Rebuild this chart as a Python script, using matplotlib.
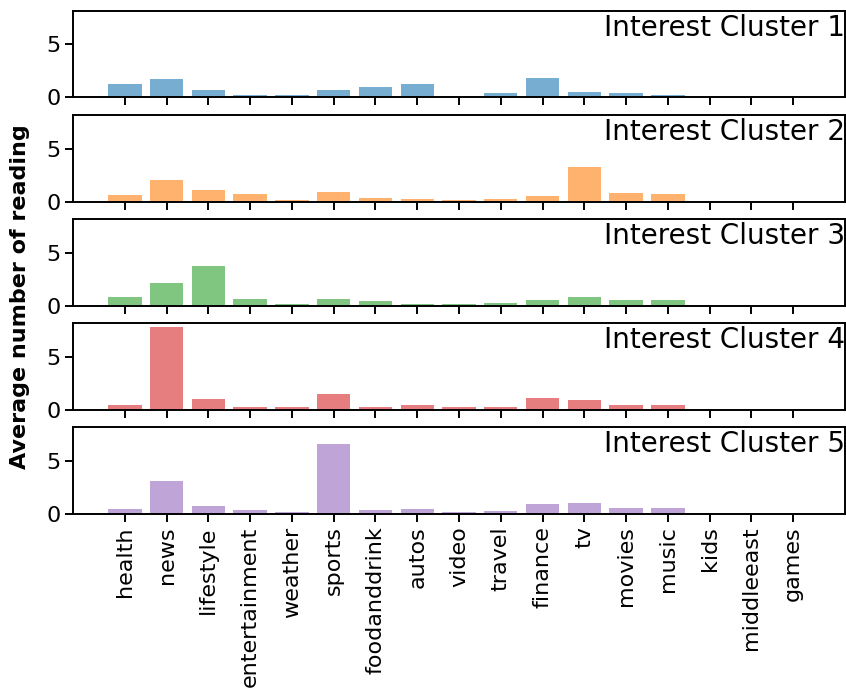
import matplotlib
matplotlib.use("Agg")
import matplotlib.pyplot as plt
import numpy as np

categories = ["health", "news", "lifestyle", "entertainment", "weather", "sports",
              "foodanddrink", "autos", "video", "travel", "finance", "tv",
              "movies", "music", "kids", "middleeast", "games"]

cluster1 = [1.21, 1.69, 0.64, 0.25, 0.18, 0.64, 0.92, 1.21, 0.08, 0.35, 1.78, 0.45, 0.35, 0.25, 0, 0, 0]
cluster2 = [0.58, 2.02, 1.06, 0.67, 0.10, 0.87, 0.29, 0.19, 0.10, 0.19, 0.48, 3.27, 0.77, 0.67, 0, 0, 0]
cluster3 = [0.82, 2.15, 3.77, 0.63, 0.16, 0.63, 0.44, 0.16, 0.16, 0.25, 0.54, 0.82, 0.54, 0.54, 0, 0, 0]
cluster4 = [0.47, 7.78, 0.95, 0.28, 0.19, 1.42, 0.28, 0.38, 0.19, 0.28, 1.04, 0.85, 0.38, 0.38, 0, 0, 0]
cluster5 = [0.41, 3.09, 0.70, 0.32, 0.13, 6.62, 0.32, 0.41, 0.13, 0.22, 0.89, 0.99, 0.51, 0.51, 0, 0, 0]

clusters = [cluster1, cluster2, cluster3, cluster4, cluster5]
cluster_names = ["Interest Cluster 1", "Interest Cluster 2", "Interest Cluster 3",
                 "Interest Cluster 4", "Interest Cluster 5"]
colors = ["tab:blue", "tab:orange", "tab:green", "tab:red", "tab:purple"]

W, H = 846, 697
fig = plt.figure(figsize=(W / 100, H / 100), dpi=100)

left_px, right_px = 73, 845
tops_px = [10.7, 115.0, 219.3, 323.0, 427.3]
height_px = 86.5

x = np.arange(len(categories))
axes = []
for i, (vals, name, col) in enumerate(zip(clusters, cluster_names, colors)):
    top = tops_px[i]
    ax = fig.add_axes([left_px / W, 1 - (top + height_px) / H,
                       (right_px - left_px) / W, height_px / H],
                      sharex=axes[0] if axes else None,
                      sharey=axes[0] if axes else None)
    ax.bar(x, vals, width=0.8, color=col, alpha=0.6)
    for s in ax.spines.values():
        s.set_linewidth(1.4)
    ax.tick_params(axis="both", length=5.5, width=1.4, labelsize=16)
    ax.text(1.0, 1 - 25 / height_px, name,
            transform=ax.transAxes, ha="right", va="baseline", fontsize=20)
    axes.append(ax)

for ax in axes[:-1]:
    ax.tick_params(axis="x", labelbottom=False)

axes[-1].set_xticks(x)
axes[-1].set_xticklabels(categories, rotation=90)
axes[0].set_yticks([0, 5])

fig.text(20 / W, 1 - 297 / H, "Average number of reading", rotation=90,
         ha="center", va="center", fontsize=16, fontweight="bold")

fig.savefig("out.png", dpi=100)
